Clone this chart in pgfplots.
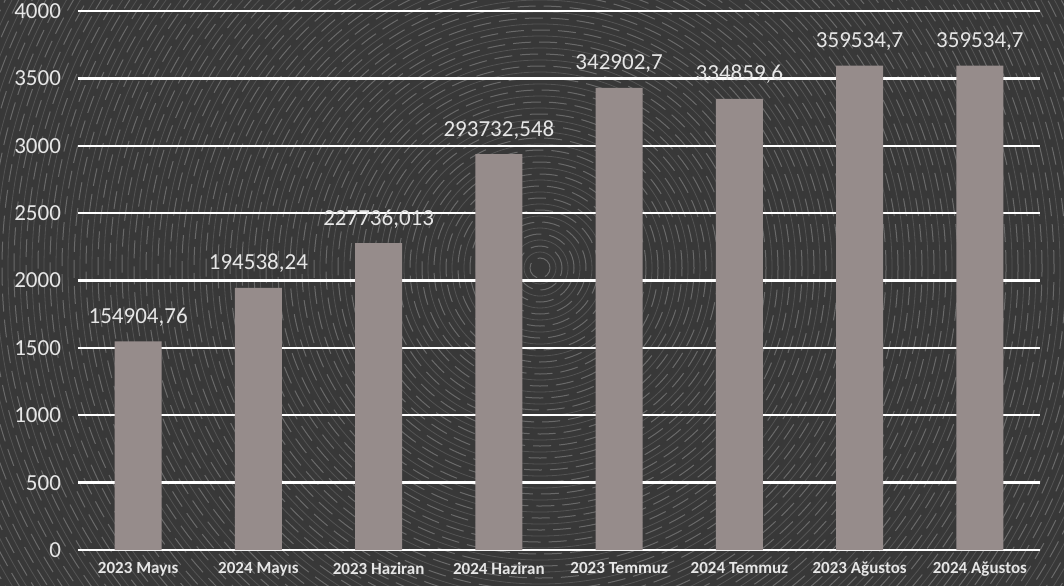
\documentclass[border=0pt]{standalone}
\usepackage{fontspec}
\setmainfont{Carlito}
\usepackage{pgfplots}
\usepackage{pgfplotstable}
\pgfplotsset{compat=1.18}

\definecolor{bgdark}{HTML}{383838}
\definecolor{barcol}{HTML}{968C8B}
\definecolor{txtcol}{HTML}{E6E6E6}

% bar heights and the values printed above them
\pgfplotstableread[col sep=semicolon]{
x;y;lab
0;1549.0476;154904,76
1;1945.3824;194538,24
2;2277.3601;227736,013
3;2937.3255;293732,548
4;3429.027;342902,7
5;3348.596;334859,6
6;3595.347;359534,7
7;3595.347;359534,7
}\datatab

\begin{document}
\begin{tikzpicture}
  % background with ring texture (1px = 0.5pt)
  \useasboundingbox (0,0) rectangle (532pt,293pt);
  \fill[bgdark] (0,0) rectangle (532pt,293pt);
  \begin{scope}
    \clip (0,0) rectangle (532pt,293pt);
    \foreach \r in {5,11,...,350}
      \draw[white, opacity=0.25, line width=0.5pt, dash pattern=on 9pt off 4pt] (270pt,159pt) circle (\r pt);
    \foreach \r in {8,14,...,350}
      \draw[white, opacity=0.14, line width=0.4pt] (270pt,159pt) circle (\r pt);
  \end{scope}
  \begin{axis}[
    at={(39pt,18pt)}, anchor=south west,
    scale only axis,
    width=481pt, height=269.5pt,
    xmin=-0.5, xmax=7.5,
    ymin=0, ymax=4000,
    ytick={0,500,...,4000},
    xtick=data,
    xticklabels={2023 Mayıs,2024 Mayıs,2023 Haziran,2024 Haziran,2023 Temmuz,2024 Temmuz,2023 Ağustos,2024 Ağustos},
    axis line style={draw=none},
    major tick length=0pt,
    ymajorgrids,
    grid style={white, line width=1.2pt},
    yticklabel style={font=\fontsize{11.5}{12}\selectfont, text=txtcol, xshift=-5pt,
      /pgf/number format/assume math mode=true,
      /pgf/number format/set thousands separator={}},
    xticklabel style={font=\fontsize{8.5}{10}\selectfont\bfseries, text=txtcol, yshift=-2.5pt},
    clip=false,
  ]
    \addplot[ybar, bar width=23.5pt, fill=barcol, draw=none,
      point meta=explicit symbolic,
      nodes near coords,
      nodes near coords style={font=\fontsize{11.5}{12}\selectfont, text=txtcol, anchor=south, yshift=4pt}]
      table[x=x, y=y, meta=lab] {\datatab};
  \end{axis}
\end{tikzpicture}
\end{document}
